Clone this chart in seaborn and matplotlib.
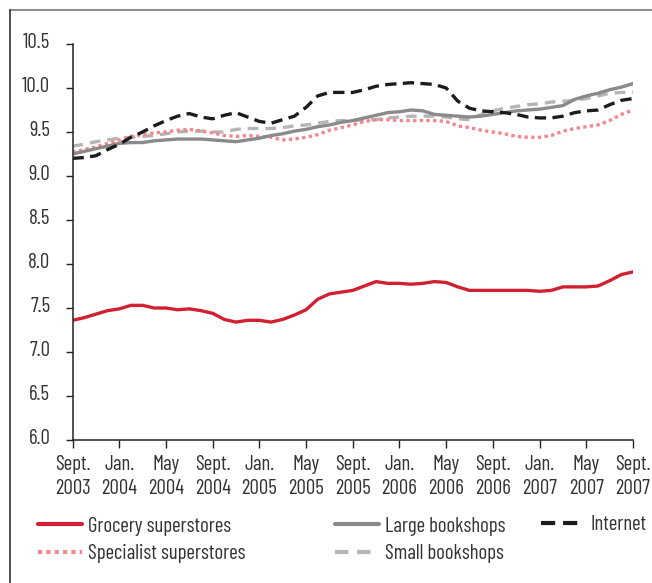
import numpy as np
import pandas as pd
import seaborn as sns
import matplotlib.pyplot as plt
import matplotlib.transforms as mtransforms
from matplotlib.lines import Line2D

# monthly values, Sept 2003 .. Sept 2007
grocery = [7.36, 7.39, 7.43, 7.47, 7.49, 7.53, 7.53, 7.50, 7.50, 7.48, 7.49, 7.47, 7.44,
           7.37, 7.34, 7.36, 7.36, 7.34, 7.37, 7.42, 7.48, 7.60, 7.66, 7.68, 7.70,
           7.75, 7.80, 7.78, 7.78, 7.77, 7.78, 7.80, 7.79, 7.74, 7.70, 7.70, 7.70,
           7.70, 7.70, 7.70, 7.69, 7.70, 7.74, 7.74, 7.74, 7.75, 7.81, 7.88, 7.91]
large = [9.25, 9.28, 9.31, 9.34, 9.37, 9.38, 9.38, 9.40, 9.41, 9.42, 9.42, 9.42, 9.41,
         9.40, 9.39, 9.41, 9.43, 9.46, 9.48, 9.51, 9.53, 9.56, 9.58, 9.61, 9.63,
         9.66, 9.69, 9.72, 9.73, 9.75, 9.74, 9.70, 9.69, 9.68, 9.67, 9.68, 9.70,
         9.72, 9.74, 9.75, 9.76, 9.78, 9.80, 9.87, 9.91, 9.94, 9.98, 10.01, 10.05]
internet = [9.20, 9.21, 9.23, 9.30, 9.36, 9.44, 9.50, 9.57, 9.63, 9.68, 9.71, 9.67, 9.65,
            9.69, 9.72, 9.67, 9.62, 9.60, 9.64, 9.68, 9.78, 9.91, 9.95, 9.95, 9.95,
            9.98, 10.02, 10.04, 10.05, 10.06, 10.05, 10.04, 10.00, 9.85, 9.77, 9.74, 9.73,
            9.72, 9.70, 9.67, 9.66, 9.66, 9.68, 9.72, 9.74, 9.75, 9.81, 9.86, 9.88]
specialist = [9.27, 9.30, 9.33, 9.37, 9.41, 9.45, 9.47, 9.49, 9.50, 9.52, 9.53, 9.51, 9.49,
              9.46, 9.45, 9.46, 9.45, 9.44, 9.41, 9.42, 9.44, 9.47, 9.52, 9.55, 9.58,
              9.62, 9.64, 9.64, 9.63, 9.63, 9.63, 9.63, 9.62, 9.57, 9.55, 9.52, 9.50,
              9.48, 9.45, 9.44, 9.44, 9.46, 9.51, 9.54, 9.56, 9.58, 9.63, 9.70, 9.75]
small = [9.34, 9.36, 9.39, 9.41, 9.43, 9.44, 9.45, 9.46, 9.48, 9.50, 9.51, 9.51, 9.50,
         9.50, 9.53, 9.54, 9.54, 9.54, 9.55, 9.57, 9.58, 9.60, 9.62, 9.63, 9.63,
         9.64, 9.64, 9.66, 9.67, 9.68, 9.68, 9.68, 9.67, 9.65, 9.64, 9.70, 9.74,
         9.77, 9.79, 9.81, 9.82, 9.84, 9.85, 9.86, 9.88, 9.91, 9.94, 9.95, 9.95]

tick_labels = ["Sept.\n2003", "Jan.\n2004", "May\n2004", "Sept.\n2004", "Jan.\n2005",
               "May\n2005", "Sept.\n2005", "Jan.\n2006", "May\n2006", "Sept.\n2006",
               "Jan.\n2007", "May\n2007", "Sept.\n2007"]

series = {
    "Grocery superstores": grocery,
    "Large bookshops": large,
    "Internet": internet,
    "Specialist superstores": specialist,
    "Small bookshops": small,
}
months = np.arange(len(grocery))
df = pd.concat([pd.DataFrame({"month": months, "value": v, "series": k})
                for k, v in series.items()])

colors = {"Grocery superstores": "#cf2131", "Large bookshops": "#8a8a8a",
          "Internet": "#1c1c1c", "Specialist superstores": "#f4868d",
          "Small bookshops": "#b5b5b5"}
dashes = {"Grocery superstores": "", "Large bookshops": "",
          "Internet": (3.4, 1.9), "Specialist superstores": (1.0, 1.0),
          "Small bookshops": (3.2, 2.1)}

sns.set_style("ticks")
plt.rcParams['font.family'] = ['Barlow Condensed', 'DejaVu Sans']
TXT = "#333333"
FS = 15

fig = plt.figure(figsize=(6.52, 5.83), dpi=100)
ax = fig.add_axes([72.5 / 652, 1 - 440 / 583, (633 - 72.5) / 652, 396 / 583])

# draw order: grocery, small, specialist, large, internet
order = ["Grocery superstores", "Small bookshops", "Specialist superstores",
         "Large bookshops", "Internet"]
sns.lineplot(data=df, x="month", y="value", hue="series", style="series",
             hue_order=order, style_order=order, palette=colors, dashes=dashes,
             linewidth=2.4, ax=ax, legend=False)

ax.set_xlim(0, 48)
ax.set_ylim(6.0, 10.5)
ax.set_xticks(np.arange(0, 49, 4))
ax.set_xticklabels(tick_labels, linespacing=1.3)
ax.set_yticks(np.arange(6.0, 10.51, 0.5))
ax.set_yticklabels([f"{v:.1f}" for v in np.arange(6.0, 10.51, 0.5)])
ax.set_xlabel("")
ax.set_ylabel("")
ax.tick_params(axis="both", labelsize=FS, colors="#222222", labelcolor=TXT, width=1)
ax.tick_params(axis="y", length=5, pad=11)
ax.tick_params(axis="x", length=6, pad=5)
sns.despine(ax=ax)
for s in ["left", "bottom"]:
    ax.spines[s].set_color("#222222")
    ax.spines[s].set_linewidth(1.1)

# y labels sit a little above their ticks in the original
shift = mtransforms.ScaledTranslation(0, 3 / 100, fig.dpi_scale_trans)
for lab in ax.get_yticklabels():
    lab.set_transform(lab.get_transform() + shift)

# legend, three separate columns
def handle(name):
    d = dashes[name]
    kw = {"dashes": d} if d else {}
    return Line2D([], [], color=colors[name], linewidth=3.0, **kw)

cols = [(["Grocery superstores", "Specialist superstores"], 38, 540),
        (["Large bookshops", "Small bookshops"], 335, 540),
        (["Internet"], 541, 525)]
for names, xpx, ypx in cols:
    leg = fig.legend(handles=[handle(n) for n in names], labels=names, loc="center left",
                     bbox_to_anchor=(xpx / 652, 1 - ypx / 583), frameon=False,
                     fontsize=FS, handlelength=2.1, handletextpad=0.3,
                     labelspacing=0.42, borderpad=0, borderaxespad=0)
    for t in leg.get_texts():
        t.set_color(TXT)

# frame edges of the original box
fig.add_artist(Line2D([9.5 / 652, 1], [1 - 9.5 / 583] * 2, color="#8c8c8c", linewidth=1.5))
fig.add_artist(Line2D([9.5 / 652] * 2, [0, 1 - 9.5 / 583], color="#333333", linewidth=1.2))

fig.savefig("out.png", dpi=100)
